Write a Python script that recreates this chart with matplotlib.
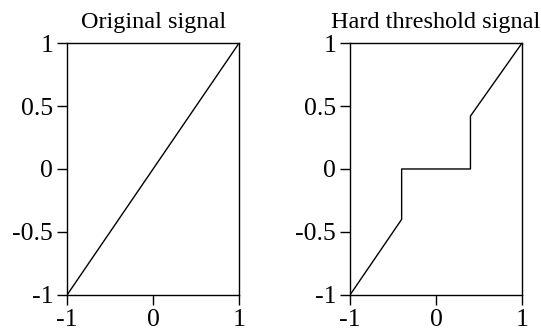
import matplotlib.pyplot as plt

plt.rcParams['font.family'] = ['Liberation Serif', 'DejaVu Serif']

# data
x_orig = [-1, 1]
y_orig = [-1, 1]
x_hard = [-1, -0.4, -0.4, 0.4, 0.4, 1]
y_hard = [-1, -0.4, 0, 0, 0.42, 1]
titles = ['Original signal', 'Hard threshold signal']
xticks = [-1, 0, 1]
yticks = [-1, -0.5, 0, 0.5, 1]
ytick_labels = ['-1', '-0.5', '0', '0.5', '1']

fig = plt.figure(figsize=(5.41, 3.31), dpi=100)
ax1 = fig.add_axes([0.124, 0.109, 0.318, 0.761])
ax2 = fig.add_axes([0.647, 0.109, 0.318, 0.761])

for ax, xs, ys, t in [(ax1, x_orig, y_orig, titles[0]), (ax2, x_hard, y_hard, titles[1])]:
    ax.plot(xs, ys, color='black', linewidth=1)
    ax.set_xlim(-1, 1)
    ax.set_ylim(-1, 1)
    ax.set_xticks(xticks)
    ax.set_xticklabels([str(v) for v in xticks])
    ax.set_yticks(yticks)
    ax.set_yticklabels(ytick_labels)
    ax.tick_params(direction='out', length=7, width=1, labelsize=18.5)
    ax.tick_params(axis='x', pad=3)
    ax.tick_params(axis='y', pad=3)
    ax.set_title(t, fontsize=17.5, pad=11)
    for s in ax.spines.values():
        s.set_linewidth(1)

fig.savefig('out.png', dpi=100)
